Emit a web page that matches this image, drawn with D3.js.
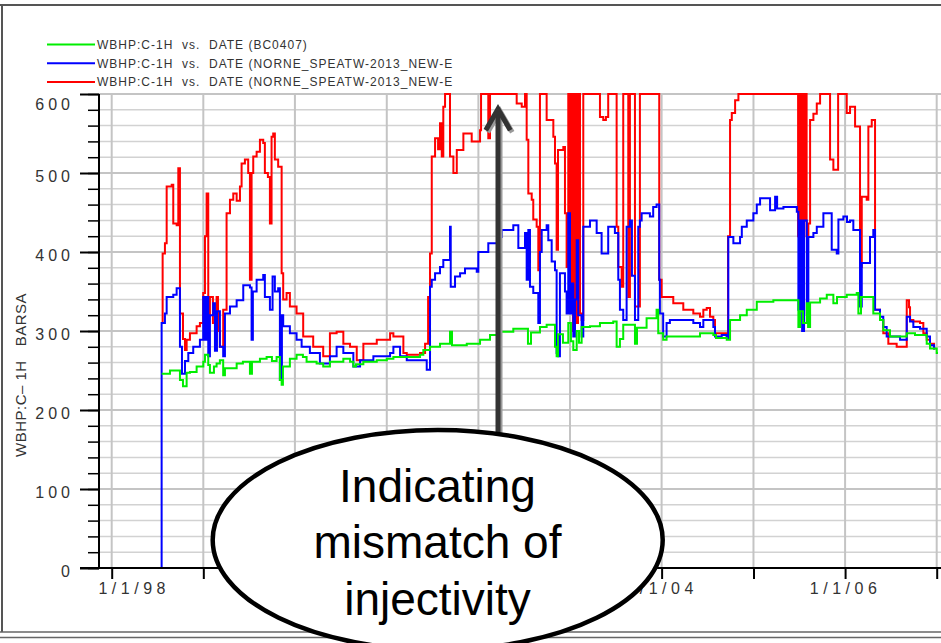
<!DOCTYPE html>
<html>
<head>
<meta charset="utf-8">
<script src="https://cdn.jsdelivr.net/npm/d3@7"></script>
<style>
  body { margin: 0; background: #fff; }
  svg { display: block; font-family: "Liberation Sans", Arial, sans-serif; }
</style>
</head>
<body>
<svg id="chart"></svg>
<script>
// Legend labels and series colours (legend order)
const legendLabels = [
  'WBHP:C-1H  vs.  DATE (BC0407)',
  'WBHP:C-1H  vs.  DATE (NORNE_SPEATW-2013_NEW-E',
  'WBHP:C-1H  vs.  DATE (NORNE_SPEATW-2013_NEW-E'
];
const seriesColors = ['#00ee00', '#0000ff', '#ff0000'];

// Axis ticks (labels under the callout are hidden in the picture)
const yMajorTicks = [0, 100, 200, 300, 400, 500, 600];
const yMinorTicks = d3.range(0, 601, 20);
const xYearTicks = [1998, 1999, 2000, 2001, 2002, 2003, 2004, 2005, 2006, 2007];
const xTickLabels = ['1/1/98', '', '', '', '', '', '1/1/04', '', '1/1/06', ''];
const yAxisTitle = 'WBHP:C\u2013 1H   BARSA';
const calloutLines = ['Indicating', 'mismatch of', 'injectivity'];

// Series: [decimal year, BHP in BARSA]
const historyBC0407 = [
  [1998.545, 246], [1998.636, 250], [1998.745, 238], [1998.778, 230], [1998.818, 247], [1998.854, 248],
  [1998.927, 255], [1999.000, 261], [1999.018, 270], [1999.054, 257], [1999.072, 247], [1999.116, 255],
  [1999.145, 259], [1999.181, 263], [1999.217, 244], [1999.236, 253], [1999.364, 259], [1999.432, 261],
  [1999.509, 246], [1999.531, 261], [1999.618, 265], [1999.691, 267], [1999.749, 262], [1999.800, 267],
  [1999.836, 238], [1999.855, 232], [1999.869, 255], [1999.945, 265], [2000.018, 270], [2000.087, 267],
  [2000.127, 261], [2000.236, 259], [2000.308, 255], [2000.381, 261], [2000.527, 265], [2000.600, 261],
  [2000.636, 255], [2000.665, 258], [2000.745, 261], [2000.891, 263], [2001.000, 265], [2001.072, 267],
  [2001.363, 270], [2001.399, 276], [2001.472, 280], [2001.581, 284], [2001.690, 299], [2001.712, 282],
  [2001.873, 284], [2002.018, 289], [2002.127, 295], [2002.236, 299], [2002.381, 303], [2002.527, 303],
  [2002.541, 284], [2002.574, 298], [2002.672, 305], [2002.745, 308], [2002.836, 280], [2002.854, 268],
  [2002.869, 296], [2002.923, 285], [2002.981, 310], [2003.010, 287], [2003.036, 276], [2003.073, 300],
  [2003.098, 285], [2003.127, 305], [2003.218, 306], [2003.327, 310], [2003.472, 312], [2003.509, 280],
  [2003.545, 290], [2003.581, 308], [2003.709, 284], [2003.731, 304], [2003.836, 316], [2003.945, 327],
  [2003.963, 297], [2004.017, 289], [2004.054, 293], [2004.418, 297], [2004.563, 295], [2004.592, 291],
  [2004.709, 289], [2004.745, 314], [2004.854, 320], [2004.927, 327], [2005.036, 337], [2005.217, 339],
  [2005.490, 305], [2005.509, 325], [2005.541, 310], [2005.582, 335], [2005.596, 305], [2005.618, 336],
  [2005.727, 341], [2005.800, 346], [2005.872, 335], [2005.912, 343], [2006.018, 346], [2006.127, 348],
  [2006.145, 322], [2006.174, 343], [2006.291, 343], [2006.308, 322], [2006.381, 314], [2006.417, 301],
  [2006.490, 293], [2006.673, 297], [2006.763, 295], [2006.891, 284], [2006.927, 278], [2007.000, 272],
  [2007.014, 272]
];

const simulationBlue = [
  [1997.861, 0], [1998.545, 310], [1998.581, 322], [1998.600, 343], [1998.672, 346], [1998.709, 354],
  [1998.745, 280], [1998.767, 246], [1998.800, 262], [1998.836, 272], [1998.890, 280], [1998.963, 289],
  [1998.999, 343], [1999.018, 289], [1999.036, 343], [1999.054, 268], [1999.072, 320], [1999.108, 335],
  [1999.127, 275], [1999.149, 325], [1999.181, 280], [1999.217, 268], [1999.236, 322], [1999.291, 331],
  [1999.364, 339], [1999.436, 358], [1999.509, 355], [1999.527, 289], [1999.541, 350], [1999.582, 365],
  [1999.654, 371], [1999.672, 343], [1999.727, 327], [1999.756, 369], [1999.781, 350], [1999.817, 354],
  [1999.836, 238], [1999.858, 320], [1999.872, 306], [1999.945, 297], [2000.018, 289], [2000.073, 280],
  [2000.163, 272], [2000.272, 259], [2000.381, 268], [2000.454, 280], [2000.527, 272], [2000.636, 255],
  [2000.709, 263], [2000.854, 268], [2001.036, 272], [2001.072, 280], [2001.145, 268], [2001.218, 263],
  [2001.436, 251], [2001.472, 356], [2001.491, 365], [2001.527, 373], [2001.581, 381], [2001.617, 390],
  [2001.690, 432], [2001.698, 356], [2001.745, 369], [2001.800, 373], [2001.854, 379], [2001.982, 375],
  [2001.999, 400], [2002.108, 411], [2002.236, 419], [2002.254, 428], [2002.381, 434], [2002.436, 405],
  [2002.509, 424], [2002.527, 365], [2002.545, 428], [2002.563, 356], [2002.599, 348], [2002.654, 310],
  [2002.672, 400], [2002.691, 428], [2002.745, 434], [2002.763, 415], [2002.800, 388], [2002.836, 377],
  [2002.854, 272], [2002.872, 268], [2002.890, 373], [2002.945, 350], [2002.963, 322], [2002.981, 449],
  [2003.000, 322], [2003.018, 360], [2003.036, 293], [2003.054, 340], [2003.073, 415], [2003.090, 320],
  [2003.127, 293], [2003.145, 432], [2003.218, 440], [2003.291, 424], [2003.345, 398], [2003.417, 432],
  [2003.490, 424], [2003.527, 365], [2003.545, 327], [2003.581, 314], [2003.618, 432], [2003.654, 440],
  [2003.676, 370], [2003.709, 314], [2003.745, 432], [2003.763, 440], [2003.782, 449], [2003.872, 445],
  [2003.908, 457], [2003.945, 460], [2003.974, 365], [2003.981, 322], [2004.017, 293], [2004.054, 310],
  [2004.090, 314], [2004.345, 310], [2004.418, 305], [2004.454, 314], [2004.563, 305], [2004.581, 293],
  [2004.654, 295], [2004.709, 291], [2004.726, 419], [2004.781, 411], [2004.854, 419], [2004.873, 432],
  [2004.927, 440], [2004.999, 449], [2005.036, 460], [2005.072, 468], [2005.181, 453], [2005.236, 470],
  [2005.258, 455], [2005.327, 457], [2005.473, 451], [2005.490, 327], [2005.509, 440], [2005.531, 300],
  [2005.552, 440], [2005.582, 322], [2005.599, 419], [2005.654, 424], [2005.691, 432], [2005.763, 449],
  [2005.854, 403], [2005.909, 398], [2005.927, 441], [2005.981, 445], [2006.021, 438], [2006.054, 440],
  [2006.090, 428], [2006.163, 331], [2006.182, 386], [2006.272, 419], [2006.308, 428], [2006.327, 327],
  [2006.381, 318], [2006.417, 305], [2006.454, 293], [2006.600, 289], [2006.673, 318], [2006.709, 312],
  [2006.745, 305], [2006.818, 303], [2006.891, 293], [2006.927, 282], [2006.971, 278], [2006.985, 278]
];

const simulationRed = [
  [1998.545, 310], [1998.556, 398], [1998.581, 411], [1998.600, 483], [1998.655, 485], [1998.672, 436],
  [1998.709, 434], [1998.727, 506], [1998.745, 322], [1998.778, 290], [1998.800, 276], [1998.818, 289],
  [1998.854, 297], [1998.927, 306], [1998.963, 310], [1998.999, 348], [1999.018, 420], [1999.036, 474],
  [1999.054, 320], [1999.072, 343], [1999.105, 310], [1999.145, 343], [1999.160, 300], [1999.181, 280],
  [1999.217, 327], [1999.254, 449], [1999.291, 466], [1999.327, 474], [1999.364, 465], [1999.400, 483],
  [1999.418, 512], [1999.454, 517], [1999.490, 500], [1999.509, 365], [1999.527, 500], [1999.545, 521],
  [1999.582, 527], [1999.618, 542], [1999.654, 538], [1999.672, 500], [1999.705, 495], [1999.727, 436],
  [1999.745, 546], [1999.763, 550], [1999.781, 517], [1999.817, 508], [1999.855, 373], [1999.872, 340],
  [1999.909, 348], [1999.945, 331], [2000.018, 322], [2000.090, 293], [2000.199, 280], [2000.308, 268],
  [2000.381, 297], [2000.454, 299], [2000.527, 284], [2000.600, 280], [2000.673, 263], [2000.745, 284],
  [2000.891, 289], [2001.036, 297], [2001.072, 293], [2001.181, 272], [2001.218, 270], [2001.363, 272],
  [2001.418, 284], [2001.451, 343], [2001.472, 398], [2001.491, 521], [2001.527, 544], [2001.560, 530],
  [2001.581, 563], [2001.600, 521], [2001.617, 584], [2001.636, 600], [2001.690, 521], [2001.727, 500],
  [2001.764, 529], [2001.836, 550], [2001.927, 540], [2002.018, 554], [2002.029, 600], [2002.108, 544],
  [2002.127, 600], [2002.418, 588], [2002.473, 584], [2002.509, 600], [2002.527, 542], [2002.545, 474],
  [2002.582, 466], [2002.599, 441], [2002.636, 432], [2002.654, 377], [2002.672, 600], [2002.745, 567],
  [2002.818, 546], [2002.836, 512], [2002.854, 403], [2002.869, 529], [2002.927, 533], [2002.945, 449],
  [2002.963, 381], [2002.981, 600], [2003.000, 330], [2003.016, 600], [2003.032, 300], [2003.054, 600],
  [2003.070, 310], [2003.087, 600], [2003.109, 322], [2003.127, 314], [2003.145, 600], [2003.327, 571],
  [2003.363, 567], [2003.392, 571], [2003.417, 600], [2003.509, 432], [2003.527, 381], [2003.564, 356],
  [2003.581, 600], [2003.636, 343], [2003.654, 600], [2003.709, 331], [2003.763, 600], [2003.974, 365],
  [2004.000, 343], [2004.127, 335], [2004.236, 327], [2004.345, 322], [2004.418, 318], [2004.454, 327],
  [2004.491, 329], [2004.527, 318], [2004.563, 314], [2004.581, 297], [2004.709, 293], [2004.723, 420],
  [2004.745, 567], [2004.764, 576], [2004.800, 592], [2004.836, 600], [2005.487, 420], [2005.498, 600],
  [2005.514, 430], [2005.531, 600], [2005.547, 440], [2005.563, 600], [2005.580, 420], [2005.599, 436],
  [2005.618, 567], [2005.654, 575], [2005.691, 588], [2005.727, 600], [2005.836, 517], [2005.872, 504],
  [2005.924, 600], [2006.018, 576], [2006.054, 584], [2006.109, 559], [2006.163, 381], [2006.182, 470],
  [2006.236, 466], [2006.254, 559], [2006.291, 567], [2006.327, 327], [2006.381, 314], [2006.417, 297],
  [2006.472, 284], [2006.563, 280], [2006.673, 339], [2006.698, 330], [2006.709, 314], [2006.745, 312],
  [2006.818, 310], [2006.854, 297], [2006.891, 289], [2006.927, 284], [2006.971, 278], [2006.985, 278]
];

// decimal year -> Date
function yearToDate(y) {
  const yr = Math.floor(y);
  const a = new Date(yr, 0, 1), b = new Date(yr + 1, 0, 1);
  return new Date(a.getTime() + (y - yr) * (b - a));
}

const width = 941, height = 643;
const plot = { left: 99, right: 941, top: 94, bottom: 568 };

const svg = d3.select('#chart').attr('width', width).attr('height', height);
svg.append('rect').attr('width', width).attr('height', height).attr('fill', '#fff');

const x = d3.scaleTime()
    .domain([yearToDate(1998), yearToDate(2007)])
    .range([111.7, 936.7]);
const y = d3.scaleLinear().domain([0, 600]).range([plot.bottom, plot.top]);

// Outer frame
svg.append('line').attr('x1', 0).attr('x2', width).attr('y1', 5).attr('y2', 5)
    .attr('stroke', '#555').attr('stroke-width', 2);
svg.append('line').attr('x1', 2).attr('x2', 2).attr('y1', 5).attr('y2', 632)
    .attr('stroke', '#555').attr('stroke-width', 2);
[632, 637.5].forEach(yy => {
  svg.append('line').attr('x1', 0).attr('x2', width).attr('y1', yy).attr('y2', yy)
      .attr('stroke', '#666').attr('stroke-width', 1.5);
});

// Grid
const grid = svg.append('g');
grid.selectAll('.hgrid')
  .data(yMinorTicks)
  .join('line')
    .attr('x1', plot.left).attr('x2', plot.right)
    .attr('y1', d => y(d)).attr('y2', d => y(d))
    .attr('stroke', d => d % 100 === 0 ? '#c4c4c4' : '#d2d2d2')
    .attr('stroke-width', d => d % 100 === 0 ? 2 : 1.5);
grid.selectAll('.vgrid')
  .data(xYearTicks)
  .join('line')
    .attr('x1', d => x(yearToDate(d))).attr('x2', d => x(yearToDate(d)))
    .attr('y1', plot.top).attr('y2', plot.bottom)
    .attr('stroke', '#c4c4c4').attr('stroke-width', 2);

// Series lines
svg.append('clipPath').attr('id', 'plotClip')
  .append('rect').attr('x', plot.left).attr('y', plot.top - 2)
  .attr('width', plot.right - plot.left).attr('height', plot.bottom - plot.top + 3);

const line = d3.line()
    .x(d => x(yearToDate(d[0])))
    .y(d => y(d[1]))
    .curve(d3.curveStepAfter);

const lines = svg.append('g').attr('clip-path', 'url(#plotClip)');
[[simulationRed, seriesColors[2]], [simulationBlue, seriesColors[1]], [historyBC0407, seriesColors[0]]]
  .forEach(([data, color]) => {
    lines.append('path')
        .datum(data)
        .attr('d', line)
        .attr('fill', 'none')
        .attr('stroke', color)
        .attr('stroke-width', 2)
        .attr('stroke-linejoin', 'miter');
  });

// Y axis: minor and major ticks
const yMinor = svg.append('g')
    .attr('transform', `translate(${plot.left},0)`)
    .call(d3.axisLeft(y).tickValues(yMinorTicks).tickSize(11).tickFormat(''));
yMinor.selectAll('.tick line').attr('stroke', '#000').attr('stroke-width', 1.5);
yMinor.select('.domain').remove();

const yMajor = svg.append('g')
    .attr('transform', `translate(${plot.left},0)`)
    .call(d3.axisLeft(y).tickValues(yMajorTicks).tickSize(19).tickPadding(6));
yMajor.select('.domain').attr('d', `M0,${plot.top}V${plot.bottom}`)
    .attr('stroke', '#000').attr('stroke-width', 2);
yMajor.selectAll('.tick line').attr('stroke', '#000').attr('stroke-width', 2);
yMajor.selectAll('.tick text')
    .attr('font-size', 16)
    .attr('letter-spacing', 4)
    .attr('fill', '#333')
    .attr('font-family', '"Liberation Sans", Arial, sans-serif')
    .attr('dy', d => d === 600 ? '0.95em' : '0.52em');

// X axis
const xAxis = svg.append('g')
    .attr('transform', `translate(0,${plot.bottom})`)
    .call(d3.axisBottom(x)
      .tickValues(xYearTicks.map(yearToDate))
      .tickSize(11)
      .tickFormat((d, i) => xTickLabels[i]));
xAxis.select('.domain').attr('d', `M80,0H${plot.right}`)
    .attr('stroke', '#000').attr('stroke-width', 2);
xAxis.selectAll('.tick line').attr('stroke', '#000').attr('stroke-width', 2);
xAxis.selectAll('.tick text')
    .attr('y', 15)
    .attr('font-size', 16)
    .attr('letter-spacing', 4.5)
    .attr('fill', '#333')
    .attr('font-family', '"Liberation Sans", Arial, sans-serif')
    .attr('dx', (d, i) => i === 0 ? 22 : 0);

// Y axis title
svg.append('text')
    .attr('transform', 'translate(26,375) rotate(-90)')
    .attr('text-anchor', 'middle')
    .attr('font-size', 15)
    .attr('letter-spacing', 0.5)
    .attr('fill', '#333')
    .style('white-space', 'pre')
    .text(yAxisTitle);

// Legend
const legend = svg.append('g');
legendLabels.forEach((label, i) => {
  const ly = 44.5 + i * 18.8;
  legend.append('line')
      .attr('x1', 47).attr('x2', 95).attr('y1', ly).attr('y2', ly)
      .attr('stroke', seriesColors[i]).attr('stroke-width', 2);
  legend.append('text')
      .attr('x', 97).attr('y', ly)
      .attr('dy', '0.35em')
      .attr('font-size', 12)
      .attr('letter-spacing', 1)
      .attr('fill', '#333')
      .style('white-space', 'pre')
      .text(label);
});

// Arrow pointing at the clipped red peak
const arrow = svg.append('g');
[['#9a9a9a', 2], ['#333', 0]].forEach(([color, off]) => {
  const g = arrow.append('g').attr('transform', `translate(${off},${off})`);
  g.append('line').attr('x1', 498).attr('x2', 498).attr('y1', 434).attr('y2', 110)
      .attr('stroke', color).attr('stroke-width', 5);
  g.append('polyline').attr('points', '487,128 498,109 509,128')
      .attr('fill', 'none').attr('stroke', color).attr('stroke-width', 5)
      .attr('stroke-linejoin', 'miter').attr('stroke-linecap', 'square');
});

// Callout ellipse
svg.append('ellipse')
    .attr('cx', 437.7).attr('cy', 540).attr('rx', 225).attr('ry', 110)
    .attr('fill', '#fff').attr('stroke', '#000').attr('stroke-width', 4.5);
svg.append('g').selectAll('text')
  .data(calloutLines)
  .join('text')
    .attr('x', 437.5)
    .attr('y', (d, i) => 501.7 + i * 56.7)
    .attr('text-anchor', 'middle')
    .attr('font-size', 46)
    .attr('fill', '#000')
    .text(d => d);
</script>
</body>
</html>
